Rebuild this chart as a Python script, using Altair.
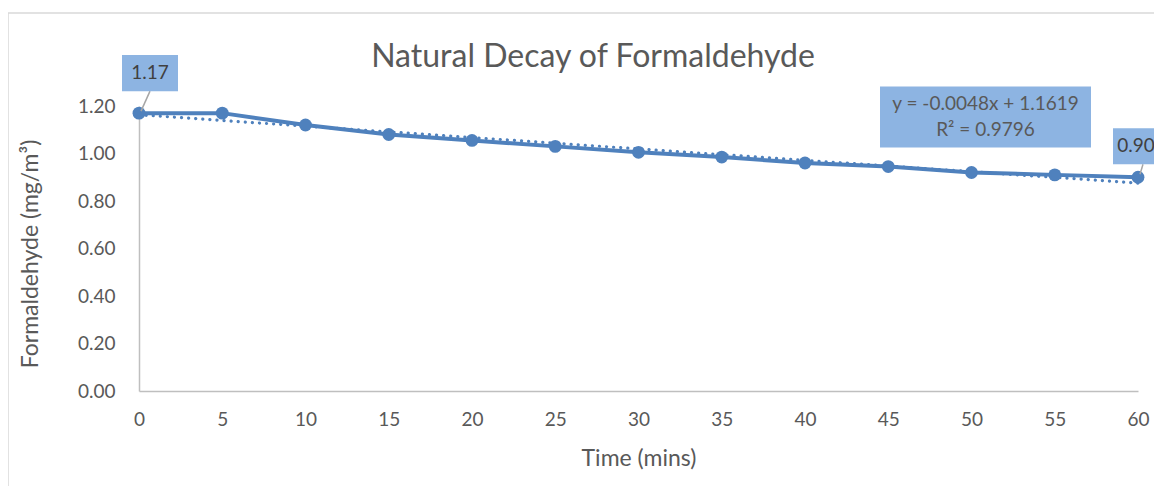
import altair as alt
import pandas as pd

# ---- data ----
TIME = [0, 5, 10, 15, 20, 25, 30, 35, 40, 45, 50, 55, 60]
CONC = [1.17, 1.17, 1.12, 1.08, 1.055, 1.03, 1.005, 0.985, 0.96, 0.945, 0.92, 0.91, 0.90]
LABELLED_TIMES = [0, 60]
X_TICKS = [0, 5, 10, 15, 20, 25, 30, 35, 40, 45, 50, 55, 60]
Y_TICKS = [0.0, 0.2, 0.4, 0.6, 0.8, 1.0, 1.2]
TITLE = "Natural Decay of Formaldehyde"
X_TITLE = "Time (mins)"
Y_TITLE = "Formaldehyde (mg/m³)"
EQUATION = "y = -0.0048x + 1.1619"
R_SQUARED = "R² = 0.9796"

df = pd.DataFrame({"t": TIME, "v": CONC})
one = pd.DataFrame({"k": [0]})

FONT = "Lato"
BLUE = "#4F81BD"
BOX = "#8DB4E2"
TEXT = "#595959"
DARK = "#404040"
W, H = 999, 285

x = alt.X(
    "t:Q",
    scale=alt.Scale(domain=[0, 60], nice=False, zero=False),
    axis=alt.Axis(
        values=X_TICKS, title=X_TITLE, ticks=False, grid=False,
        labelPadding=19, labelFlush=False, labelFontSize=19, labelColor=TEXT,
        labelFont=FONT, domainColor="#BFBFBF", domainWidth=1.5,
        titleFont=FONT, titleFontSize=23, titleColor=TEXT, titleFontWeight="normal",
        titleY=67, titleBaseline="middle",
    ),
)
y = alt.Y(
    "v:Q",
    scale=alt.Scale(domain=[0, 1.2], nice=False),
    axis=alt.Axis(
        values=Y_TICKS, format=".2f", title=Y_TITLE, ticks=False, grid=False,
        labelPadding=24, labelFontSize=19, labelColor=TEXT, labelFont=FONT,
        domainColor="#BFBFBF", domainWidth=1.5,
        titleFont=FONT, titleFontSize=23, titleColor=TEXT, titleFontWeight="normal",
        titleAngle=270, titleX=-109, titleY=H / 2 + 5, titleBaseline="middle",
        titleAlign="center",
    ),
)

base = alt.Chart(df)
ann = alt.Chart(one)

trend = base.transform_regression("t", "v", extent=[0, 60]).mark_line(
    color=BLUE, strokeWidth=3.2, strokeDash=[0.1, 7], strokeCap="round"
).encode(x=x, y=y)

line = base.mark_line(color=BLUE, strokeWidth=4).encode(x=x, y=y)
points = base.mark_point(filled=True, color=BLUE, size=165, opacity=1).encode(x=x, y=y)

# label layout: box offset, text offset, leader line start/end
LAYOUT = {
    0: dict(bx=11, tx=11, dy=-40, lx1=11, ly1=-22, lx2=2, ly2=-2),
    60: dict(bx=3, tx=-2, dy=-31, lx1=5, ly1=-13, lx2=2, ly2=-3),
}
RECT = "M-1,-0.643H1V0.643H-1Z"
label_layers = []
for t in LABELLED_TIMES:
    L = LAYOUT[t]
    sel = base.transform_filter(alt.datum.t == t)
    leader = sel.mark_rule(
        color="#A6A6A6", strokeWidth=1.5,
        xOffset=L["lx1"], yOffset=L["ly1"], x2Offset=L["lx2"], y2Offset=L["ly2"],
    ).encode(x="t:Q", y="v:Q", x2="t:Q", y2="v:Q")
    box = sel.mark_point(
        shape=RECT, size=56 * 56, filled=True, fill=BOX, opacity=1, strokeWidth=0,
        xOffset=L["bx"], yOffset=L["dy"],
    ).encode(x="t:Q", y="v:Q")
    txt = sel.mark_text(
        font=FONT, fontSize=19, color=DARK, dx=L["tx"], dy=L["dy"], baseline="middle",
    ).encode(x="t:Q", y="v:Q", text=alt.Text("v:Q", format=".2f"))
    label_layers += [leader, box, txt]

EQ_RECT = "M-1,-0.289H1V0.289H-1Z"
eq_box = ann.mark_point(
    shape=EQ_RECT, size=211 * 211, filled=True, fill=BOX, opacity=1, strokeWidth=0
).encode(x=alt.value(846.5), y=alt.value(11))
eq1 = ann.mark_text(font=FONT, fontSize=19, color=TEXT, baseline="middle").encode(
    x=alt.value(846.5), y=alt.value(-2.5), text=alt.value(EQUATION))
eq2 = ann.mark_text(font=FONT, fontSize=19, color=TEXT, baseline="middle").encode(
    x=alt.value(846.5), y=alt.value(23.5), text=alt.value(R_SQUARED))

title = ann.mark_text(font=FONT, fontSize=32, color=TEXT, baseline="middle").encode(
    x=alt.value(454), y=alt.value(-49), text=alt.value(TITLE))

border_v = ann.mark_rule(color="#D9D9D9", strokeWidth=1.5).encode(
    x=alt.value(-131), y=alt.value(-93), y2=alt.value(380))
border_h = ann.mark_rule(color="#D9D9D9", strokeWidth=1.5).encode(
    y=alt.value(-93), x=alt.value(-131), x2=alt.value(1015))

chart = alt.layer(
    border_v, border_h, trend, line, points, *label_layers, eq_box, eq1, eq2, title
).properties(
    width=W, height=H,
    autosize=alt.AutoSizeParams(type="none"),
    padding={"left": 131, "top": 98, "right": 16, "bottom": 95},
    background="white",
).configure_view(stroke=None)

chart.save("out.html", embed_options={"renderer": "svg", "actions": False})
